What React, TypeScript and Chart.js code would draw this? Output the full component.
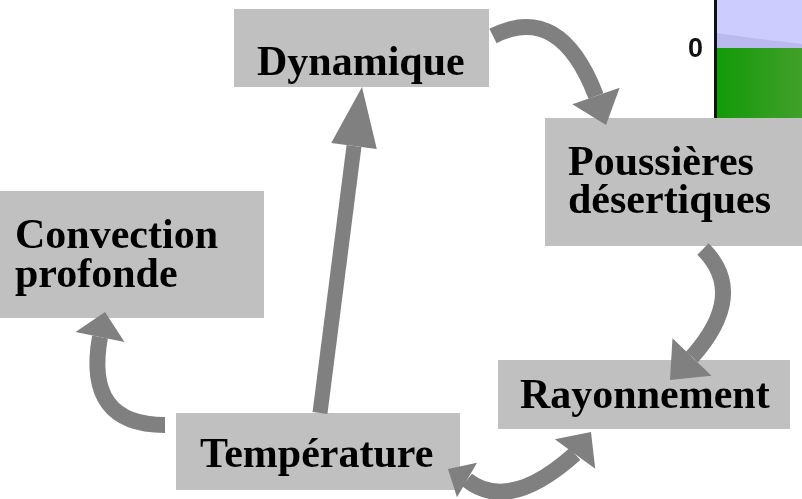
import React, { useEffect, useRef } from "react";
import { Chart, registerables } from "chart.js";

Chart.register(...registerables);

// ---- Diagram data (in diagram units; x: 0..802, y: 0..499 downward) ----
const nodeLabels: string[][] = [
  ["Dynamique"],
  ["Poussières", "désertiques"],
  ["Convection", "profonde"],
  ["Rayonnement"],
  ["Température"],
];
const boxLeft = [234, 545, 0, 498, 176];
const boxTop = [9, 118, 191, 360, 413];
const boxRight = [489, 802, 264, 790, 460];
const boxBottom = [87, 246, 318, 429, 490];
const textX = [257, 568, 15, 520, 200];
const textBaselines = [[75], [175, 213], [248, 287], [408], [467]];

// arrows: quadratic shafts [start, control, end]
const arrowShafts: number[][][] = [
  [[493, 36], [560, 2], [596, 96]],
  [[703, 249], [748, 294], [692, 357]],
  [[320, 413], [337, 280], [354, 146]],
  [[165, 425], [84, 425], [100, 337]],
  [[467, 480], [509, 513], [575, 454]],
];
const arrowEndTips: number[][] = [[606, 125], [670, 380], [362, 87], [105, 312], [591, 432]];
const arrowEndHalfWidths = [25, 27, 23, 25, 25];
const arrowStartTips: (number[] | null)[] = [null, null, null, null, [448, 469]];
const arrowStartHalfWidths = [0, 0, 0, 0, 20];
const shaftWidths = [16, 16, 15, 16, 16];

// inset fragment (top right): axis, zero tick
const insetTickLabels = ["0"];
const insetAxisX = 716;
const insetZeroY = 48;
const insetBottomY = 118;
const insetRightX = 802;

const BOX_COLOR = "#c0c0c0";
const ARROW_COLOR = "#808080";
const FONT = 'bold 42px "Liberation Serif", "Times New Roman", serif';

const diagramPlugin = {
  id: "diagram",
  afterDatasetsDraw(chart: any) {
    const ctx: CanvasRenderingContext2D = chart.ctx;
    const xs = chart.scales.x;
    const ys = chart.scales.y;
    const px = (v: number) => xs.getPixelForValue(v);
    const py = (v: number) => ys.getPixelForValue(v);

    ctx.save();

    // inset fragment
    const ax = px(insetAxisX);
    const zy = py(insetZeroY);
    const by = py(insetBottomY);
    const rx = px(insetRightX);
    const top = py(0);
    ctx.fillStyle = "#ccccff";
    ctx.fillRect(ax, top, rx - ax, zy - top);
    ctx.fillStyle = "#babaf0";
    ctx.beginPath();
    ctx.moveTo(ax, py(33));
    ctx.quadraticCurveTo(px(750), py(38), rx, py(44));
    ctx.lineTo(rx, zy);
    ctx.lineTo(ax, zy);
    ctx.closePath();
    ctx.fill();
    const g = ctx.createLinearGradient(ax, 0, rx, 0);
    g.addColorStop(0, "#129a08");
    g.addColorStop(1, "#42a02a");
    ctx.fillStyle = g;
    ctx.fillRect(ax, zy, rx - ax, by - zy);
    ctx.fillStyle = "#111";
    ctx.fillRect(ax - 2, top, 3, by - top);
    ctx.fillStyle = "#111";
    ctx.font = 'bold 27px "Liberation Sans", Arial, sans-serif';
    ctx.textAlign = "right";
    ctx.textBaseline = "middle";
    ctx.fillText(insetTickLabels[0], ax - 13, zy + 2);

    // boxes
    ctx.fillStyle = BOX_COLOR;
    for (let i = 0; i < nodeLabels.length; i++) {
      const x0 = px(boxLeft[i]);
      const y0 = py(boxTop[i]);
      ctx.fillRect(x0, y0, px(boxRight[i]) - x0, py(boxBottom[i]) - y0);
    }
    ctx.fillStyle = "#000";
    ctx.font = FONT;
    ctx.textAlign = "left";
    ctx.textBaseline = "alphabetic";
    for (let i = 0; i < nodeLabels.length; i++) {
      nodeLabels[i].forEach((line, j) => {
        ctx.fillText(line, px(textX[i]), py(textBaselines[i][j]));
      });
    }

    // arrows
    const head = (base: number[], tip: number[], hw: number) => {
      const bx = px(base[0]), byy = py(base[1]);
      const tx = px(tip[0]), ty = py(tip[1]);
      const dx = tx - bx, dy = ty - byy;
      const len = Math.hypot(dx, dy) || 1;
      const nx = -dy / len, ny = dx / len;
      ctx.beginPath();
      ctx.moveTo(bx + nx * hw, byy + ny * hw);
      ctx.lineTo(tx, ty);
      ctx.lineTo(bx - nx * hw, byy - ny * hw);
      ctx.closePath();
      ctx.fill();
    };
    ctx.strokeStyle = ARROW_COLOR;
    ctx.fillStyle = ARROW_COLOR;
    ctx.lineCap = "butt";
    for (let i = 0; i < arrowShafts.length; i++) {
      const [s, c, e] = arrowShafts[i];
      ctx.lineWidth = shaftWidths[i];
      ctx.beginPath();
      ctx.moveTo(px(s[0]), py(s[1]));
      ctx.quadraticCurveTo(px(c[0]), py(c[1]), px(e[0]), py(e[1]));
      ctx.stroke();
      head(e, arrowEndTips[i], arrowEndHalfWidths[i]);
      const st = arrowStartTips[i];
      if (st) head(s, st, arrowStartHalfWidths[i]);
    }

    ctx.restore();
  },
};

export default function App() {
  const canvasRef = useRef<HTMLCanvasElement | null>(null);

  useEffect(() => {
    document.body.style.margin = "0";
    const canvas = canvasRef.current;
    if (!canvas) return;
    const nodeCenters = nodeLabels.map((_, i) => ({
      x: (boxLeft[i] + boxRight[i]) / 2,
      y: (boxTop[i] + boxBottom[i]) / 2,
    }));
    const chart = new Chart(canvas, {
      type: "scatter",
      data: {
        datasets: [
          {
            label: "nodes",
            data: nodeCenters,
            pointRadius: 0,
            pointHoverRadius: 0,
          },
        ],
      },
      options: {
        animation: false,
        responsive: true,
        maintainAspectRatio: false,
        layout: { padding: 0 },
        events: [],
        plugins: { legend: { display: false }, tooltip: { enabled: false } },
        scales: {
          x: { type: "linear", min: 0, max: 802, display: false },
          y: { type: "linear", min: 0, max: 499, reverse: true, display: false },
        },
      },
      plugins: [diagramPlugin],
    });
    return () => chart.destroy();
  }, []);

  return (
    <div style={{ position: "absolute", left: 0, top: 0, width: 802, height: 499, background: "#fff" }}>
      <canvas ref={canvasRef} />
    </div>
  );
}
